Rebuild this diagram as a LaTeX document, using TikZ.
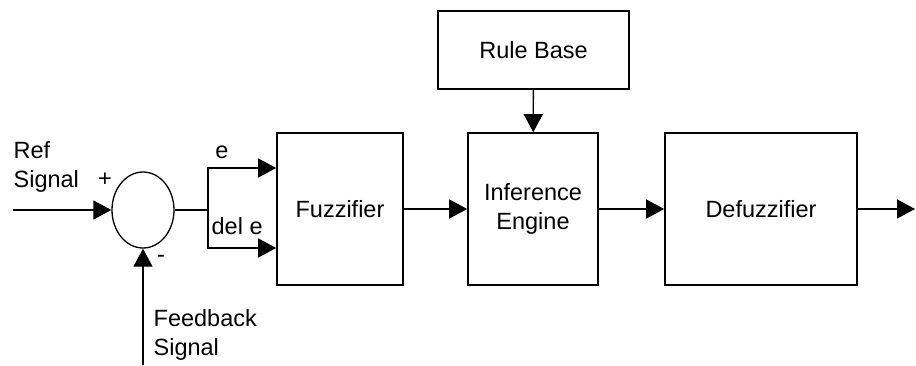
\documentclass[tikz,border=0pt]{standalone}
\usepackage{fontspec}
\setmainfont{Liberation Sans}
\usetikzlibrary{arrows.meta,shapes.geometric}

\tikzset{
  blk/.style={draw, line width=1.6pt, inner sep=0pt, align=center},
  lbl/.style={inner sep=0pt, align=left},
}

\begin{document}
\begin{tikzpicture}[x=1pt,y=-1pt,>={Triangle[length=18pt,width=19pt]},line width=1.3pt,
  every node/.style={font=\fontsize{23.5}{29}\selectfont}]
		\useasboundingbox (0,0) rectangle (916,365);
		\node [blk, minimum width=191pt, minimum height=78pt] (rule) at (533.5,50) {Rule Base};
		\node [blk, minimum width=126pt, minimum height=152pt] (fuzz) at (340,209) {Fuzzifier};
		\node [blk, minimum width=130pt, minimum height=152pt] (infer) at (533,209) {Inference\\Engine};
		\node [blk, minimum width=192pt, minimum height=152pt] (defuzz) at (761,209) {Defuzzifier};
		\node [draw, ellipse, inner sep=0pt, minimum width=62pt, minimum height=76pt] (sum) at (143,210) {};
		\coordinate (refin) at (13,210);
		\coordinate (fbin) at (143,365);
		\coordinate (split) at (208,210);
		\coordinate (out) at (915,209);
		\draw [->] (refin) -- (sum.west);
		\draw [->] (fbin) -- (sum.south);
		\draw (sum.east) -- (split);
		\draw [->] (split) |- ([yshift=41pt]fuzz.west);
		\draw [->] (split) |- ([yshift=-39pt]fuzz.west);
		\draw [->] (fuzz) -- (infer);
		\draw [->] (rule) -- (infer);
		\draw [->] (infer) -- (defuzz);
		\draw [->] (defuzz) -- (out);
		\node [lbl, anchor=north west] (reflbl) at (13,141) {Ref\\Signal};
		\node [lbl, anchor=north west] (fblbl) at (153,309) {Feedback\\Signal};
		\node [lbl, anchor=base] (elbl) at (222,158) {e};
		\node [lbl, anchor=base west] (delbl) at (211,234) {del e};
		\node [lbl] (plus) at (105,180) {+};
		\node [lbl] (minus) at (161,259) {-};
\end{tikzpicture}
\end{document}
